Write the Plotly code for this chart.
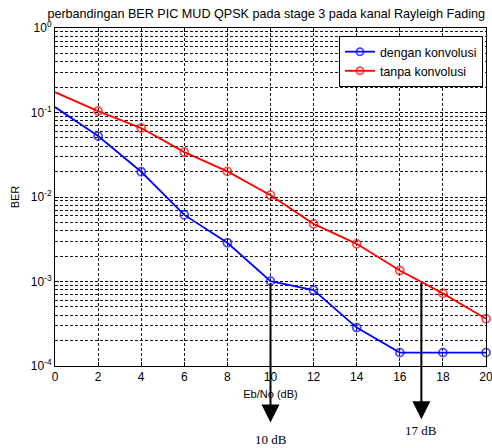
import math
import plotly.graph_objects as go

# ---- data ----
ebno = [0, 2, 4, 6, 8, 10, 12, 14, 16, 18, 20]
ber_dengan = [0.116, 0.0526, 0.0199, 0.00614, 0.00287, 0.00101, 0.00079, 0.000285, 0.000144, 0.000144, 0.000144]
ber_tanpa = [0.174, 0.104, 0.0654, 0.034, 0.0201, 0.0105, 0.00481, 0.00279, 0.00135, 0.000724, 0.000363]
marker_sizes = [0, 8, 8, 8, 8, 8, 8, 8, 8, 8, 8]
series_names = ["dengan konvolusi", "tanpa konvolusi"]
x_ticks = [0, 2, 4, 6, 8, 10, 12, 14, 16, 18, 20]
y_tickvals = [1e-4, 1e-3, 1e-2, 1e-1, 1]
y_ticktext = ["10<sup>-4</sup>", "10<sup>-3</sup>", "10<sup>-2</sup>", "10<sup>-1</sup>", "10<sup>0</sup>"]
arrow_x = [10, 17]
arrow_ber = [1e-3, 1e-3]
arrow_labels = ["10 dB", "17 dB"]

FONT = "Liberation Sans, Arial, sans-serif"
SERIF = "Liberation Serif, Times New Roman, serif"

fig = go.Figure()
for ys, name, col in [(ber_dengan, series_names[0], "#0000ff"), (ber_tanpa, series_names[1], "#ff0000")]:
    fig.add_trace(go.Scatter(
        x=ebno, y=ys, name=name, mode="lines+markers",
        line=dict(color=col, width=1.8),
        marker=dict(symbol="circle-open", size=marker_sizes, color=col, line=dict(width=1.8, color=col)),
        cliponaxis=False,
    ))

grid = dict(gridcolor="rgba(0,0,0,0.9)", griddash="3px,2px", gridwidth=1)
fig.update_layout(
    width=492, height=448,
    margin=dict(l=55, r=6, t=28, b=82),
    paper_bgcolor="white", plot_bgcolor="white",
    font=dict(family=FONT, size=12, color="black"),
    title=dict(text="perbandingan BER PIC MUD QPSK pada stage 3 pada kanal Rayleigh Fading",
               x=0.49, xref="paper", y=1 - 14 / 448, yref="container", yanchor="middle", xanchor="center",
               font=dict(family=FONT, size=12.6, color="black")),
    showlegend=True,
    legend=dict(x=0.993, y=0.976, xanchor="right", yanchor="top", bordercolor="black", borderwidth=1,
                bgcolor="white", font=dict(family=FONT, size=12.4), tracegroupgap=0),
    xaxis=dict(range=[0, 20], tickvals=x_ticks, showgrid=True, **grid,
               showline=True, linecolor="black", linewidth=1, mirror="ticks",
               ticks="inside", ticklen=4, tickcolor="black", zeroline=False,
               tickfont=dict(size=12), ticklabeloverflow="allow", automargin=False,
               title=dict(text="Eb/No (dB)", standoff=6, font=dict(size=11))),
    yaxis=dict(type="log", range=[-4, 0], tickmode="array", tickvals=y_tickvals, ticktext=y_ticktext,
               showgrid=True, **grid,
               minor=dict(dtick="D1", showgrid=True, ticks="", **grid),
               showline=True, linecolor="black", linewidth=1, mirror="ticks",
               ticks="inside", ticklen=4, tickcolor="black", zeroline=False,
               tickfont=dict(size=12), ticklabeloverflow="allow", automargin=False,
               title=dict(text="BER", standoff=8, font=dict(size=11))),
)

for xv, bv, tip in zip(arrow_x, arrow_ber, [-4.67, -4.63]):
    fig.add_annotation(x=xv, y=tip, xref="x", yref="y", ax=xv, ay=math.log10(bv), axref="x", ayref="y",
                       showarrow=True, arrowhead=2, arrowsize=1.8, arrowwidth=2, arrowcolor="black", text="")

for xv, lab, yp in zip(arrow_x, arrow_labels, [-0.218, -0.19]):
    fig.add_annotation(x=xv, y=yp, xref="x", yref="paper", text=lab, showarrow=False,
                       font=dict(family=SERIF, size=13), yanchor="middle")

fig.write_html("out.html", config={"displayModeBar": False},
               post_script="document.body.style.margin='0';document.body.style.overflow='hidden';")
